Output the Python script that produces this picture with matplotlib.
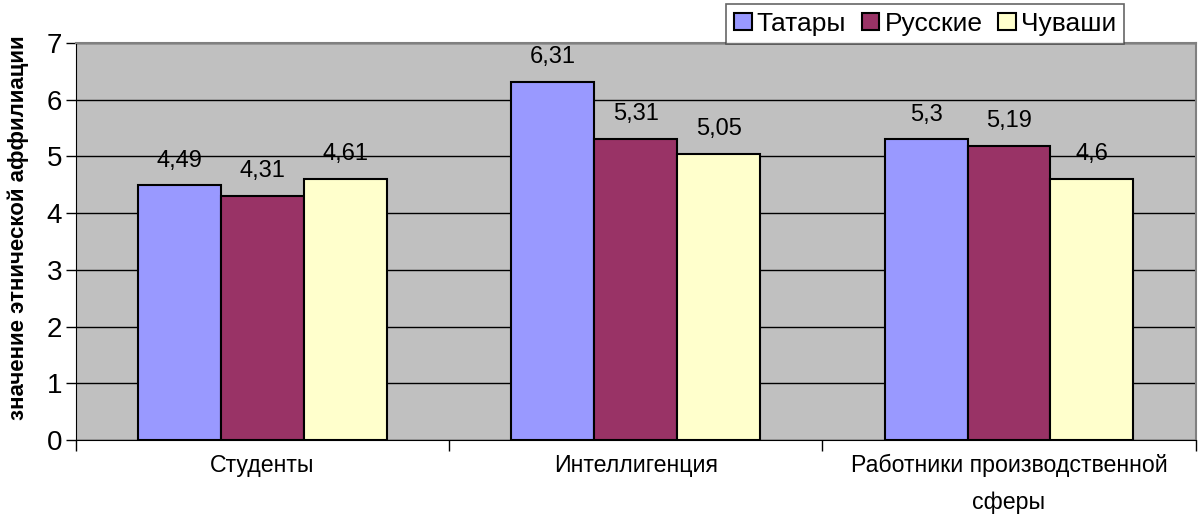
import matplotlib
matplotlib.use("Agg")
import matplotlib.pyplot as plt
import numpy as np

plt.rcParams['font.family'] = ['Liberation Sans', 'DejaVu Sans']

categories = ["Студенты", "Интеллигенция", "Работники производственной\nсферы"]
series_names = ["Татары", "Русские", "Чуваши"]
tatary = [4.49, 6.31, 5.3]
russkie = [4.31, 5.31, 5.19]
chuvashi = [4.61, 5.05, 4.6]
value_labels = [["4,49", "6,31", "5,3"],
                ["4,31", "5,31", "5,19"],
                ["4,61", "5,05", "4,6"]]
colors = ["#9999FF", "#993366", "#FFFFCC"]

def main():
    fig = plt.figure(figsize=(11.98, 5.24), dpi=100)
    ax = fig.add_axes([0.0634, 0.160, 0.9346, 0.758])
    ax.set_facecolor("#C0C0C0")

    x = np.arange(len(categories))
    width = 0.222
    series = [tatary, russkie, chuvashi]
    for i in range(len(series)):
        pos = x + (i - 1) * width
        ax.bar(pos, series[i], width, color=colors[i], edgecolor="black",
               linewidth=1.5, label=series_names[i], zorder=3)
        for j in range(len(pos)):
            ax.annotate(value_labels[i][j], (pos[j], series[i][j]),
                        xytext=(0, 10), textcoords="offset points",
                        ha="center", va="bottom", fontsize=17, zorder=4)

    ax.set_xlim(-0.5, 2.5)
    ax.set_ylim(0, 7)
    ax.set_yticks(range(0, 8))
    ax.yaxis.grid(True, color="black", linewidth=1, zorder=0)
    ax.set_axisbelow(True)
    ax.tick_params(axis="y", labelsize=20, length=7, width=1, direction="out", pad=3)

    ax.set_xticks([-0.5, 0.5, 1.5, 2.5])
    ax.set_xticklabels([])
    ax.set_xticks(x, minor=True)
    ax.set_xticklabels(categories, minor=True, fontsize=16.7, linespacing=1.75)
    ax.tick_params(axis="x", which="major", length=8, width=1, direction="out")
    ax.tick_params(axis="x", which="minor", length=0, pad=10)

    for s in ["top", "right"]:
        ax.spines[s].set_color("#808080")
        ax.spines[s].set_linewidth(1.5)
    ax.spines["left"].set_color("black")
    ax.spines["bottom"].set_color("black")

    ax.set_ylabel("значение этнической аффилиации", fontsize=16, fontweight="bold")
    ax.yaxis.set_label_coords(29 / 1198, 1 - 228 / 524, transform=fig.transFigure)

    leg = ax.legend(loc="upper right", bbox_to_anchor=(1124 / 1198, 1 - 4 / 524),
                    bbox_transform=fig.transFigure, ncol=3, fontsize=19,
                    frameon=True, fancybox=False, handlelength=0.65, handleheight=0.65,
                    handletextpad=0.2, columnspacing=0.6, borderpad=0.3,
                    borderaxespad=0)
    leg.get_frame().set_edgecolor("#404040")
    leg.get_frame().set_linewidth(1.2)
    leg.set_zorder(10)

    fig.savefig("out.png", dpi=100)

if __name__ == "__main__":
    main()
